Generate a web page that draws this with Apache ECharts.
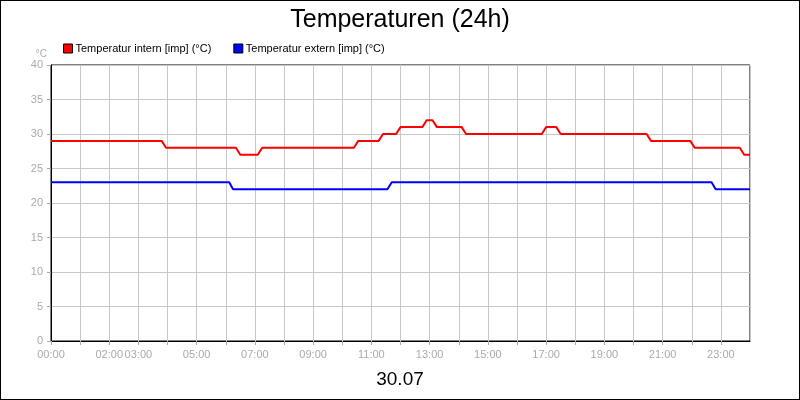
<!DOCTYPE html>
<html><head><meta charset="utf-8">
<script src="https://cdn.jsdelivr.net/npm/echarts@6/dist/echarts.min.js"></script>
<style>html,body{margin:0;padding:0}#c{width:798px;height:398px;border:1px solid #000}</style>
</head><body><div id="c"></div>
<script>
const internTimes = [0,3.8,3.95,6.35,6.5,7.1,7.25,10.4,10.55,11.25,11.4,11.85,12.0,12.75,12.9,13.1,13.25,14.1,14.25,16.85,17.0,17.35,17.5,20.45,20.6,21.95,22.1,23.65,23.8,24];
const internVals  = [29,29,28,28,27,27,28,28,29,29,30,30,31,31,32,32,31,31,30,30,31,31,30,30,29,29,28,28,27,27];
const externTimes = [0,6.12,6.25,11.55,11.7,22.68,22.82,24];
const externVals  = [23,23,22,22,23,23,22,22];
const shownHours = [0,2,3,5,7,9,11,13,15,17,19,21,23];
const zip=(t,v)=>t.map((x,i)=>[x,v[i]]);
const pad=h=>(h<10?'0':'')+h+':00';
const gray='#aaa';
echarts.init(document.getElementById('c')).setOption({
  animation:false,
  title:[{text:'Temperaturen (24h)',left:'center',top:2,textStyle:{fontFamily:'Arial, Liberation Sans',fontSize:25,fontWeight:'normal',color:'#000'}},
         {text:'30.07',left:'center',top:364,textStyle:{fontFamily:'Arial, Liberation Sans',fontSize:19,fontWeight:'normal',color:'#000'}}],
  legend:{left:57,top:37,itemWidth:9,itemHeight:9,itemGap:22,icon:'rect',
    textStyle:{fontFamily:'Arial, Liberation Sans',fontSize:11,color:'#000',padding:[0,0,0,-2]},
    data:[{name:'Temperatur intern [imp] (°C)',itemStyle:{borderColor:'#000',borderWidth:1}},
          {name:'Temperatur extern [imp] (°C)',itemStyle:{borderColor:'#000',borderWidth:1}}]},
  grid:{left:50,right:49,top:64,bottom:58,show:true,borderColor:'#000',borderWidth:1},
  xAxis:{type:'value',min:0,max:24,interval:1,
    axisLine:{lineStyle:{color:'#000'}},axisTick:{show:true,length:4,lineStyle:{color:gray}},
    splitLine:{lineStyle:{color:'#c8c8c8'}},
    axisLabel:{color:gray,fontSize:11,fontFamily:'Arial, Liberation Sans',showMaxLabel:false,
      formatter:v=>shownHours.includes(v)?pad(v):''}},
  yAxis:{type:'value',min:0,max:40,interval:5,name:'°C',nameGap:6,nameTextStyle:{color:gray,fontSize:10,align:'right',padding:[0,4,0,0]},
    axisLine:{show:true,lineStyle:{color:'#000'}},axisTick:{show:true,length:4,lineStyle:{color:gray}},
    splitLine:{lineStyle:{color:'#c8c8c8'}},
    axisLabel:{color:gray,fontSize:11,fontFamily:'Arial, Liberation Sans'}},
  series:[
    {name:'Temperatur intern [imp] (°C)',type:'line',data:zip(internTimes,internVals),showSymbol:false,color:'#ff0000',lineStyle:{width:2}},
    {name:'Temperatur extern [imp] (°C)',type:'line',data:zip(externTimes,externVals),showSymbol:false,color:'#0000ff',lineStyle:{width:2}}
  ]
});
</script></body></html>
